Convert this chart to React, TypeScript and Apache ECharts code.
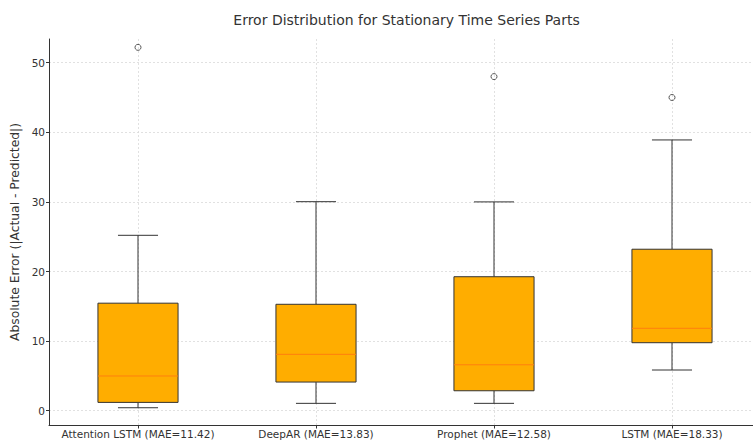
import React, { useEffect, useRef } from "react";
import * as echarts from "echarts";

const categories = [
  "Attention LSTM (MAE=11.42)",
  "DeepAR (MAE=13.83)",
  "Prophet (MAE=12.58)",
  "LSTM (MAE=18.33)",
];
const whiskerLow = [0.43, 1.06, 1.06, 5.85];
const q1 = [1.2, 4.12, 2.87, 9.77];
const median = [4.99, 8.1, 6.6, 11.84];
const q3 = [15.45, 15.29, 19.25, 23.2];
const whiskerHigh = [25.2, 30.03, 30.0, 38.9];
const outlierPos = [1, 3, 4];
const outlierVal = [52.2, 48.0, 45.0];
const yTicks = [0, 10, 20, 30, 40, 50];
const xTicks = [1, 2, 3, 4];

const FONT = "DejaVu Sans";
const TEXT = "#333";
const EDGE = "#333";
const BOX_FILL = "#FFAD00";
const MEDIAN = "#FF7F0E";
const GRID = "#d9d9d9";

export default function App() {
  const ref = useRef<HTMLDivElement>(null);
  useEffect(() => {
    if (!ref.current) return;
    const chart = echarts.init(ref.current, null, { renderer: "svg" });
    const boxData = categories.map((_, i) => [
      i + 1,
      whiskerLow[i],
      q1[i],
      median[i],
      q3[i],
      whiskerHigh[i],
    ]);
    const outData = outlierPos.map((p, i) => [p, outlierVal[i]]);
    const option: any = {
      animation: false,
      backgroundColor: "#fff",
      textStyle: { fontFamily: FONT },
      graphic: [
        {
          type: "text",
          x: 406.5,
          y: 19.5,
          style: {
            text: "Error Distribution for Stationary Time Series Parts",
            fontFamily: FONT,
            fontSize: 14,
            fill: TEXT,
            align: "center",
            verticalAlign: "middle",
          },
        },
      ],
      grid: { left: 49, top: 39, width: 712, height: 386 },
      xAxis: {
        type: "value",
        min: 0.5,
        max: 4.5,
        splitNumber: 4,
        axisLine: { show: true, onZero: false, lineStyle: { color: EDGE, width: 1 } },
        axisTick: { show: true, length: 3.5, customValues: xTicks, lineStyle: { color: EDGE } },
        axisLabel: {
          customValues: xTicks,
          formatter: (v: number) => categories[Math.round(v) - 1] ?? "",
          fontFamily: FONT,
          fontSize: 10.5,
          color: TEXT,
          margin: 3,
        },
        splitLine: {
          show: true,
          lineStyle: { color: GRID, type: [2, 2], width: 0.8 },
        },
      },
      yAxis: {
        type: "value",
        min: -2.05,
        max: 53.4,
        name: "Absolute Error (|Actual - Predicted|)",
        nameLocation: "middle",
        nameGap: 14,
        nameTextStyle: { fontFamily: FONT, fontSize: 12.3, color: TEXT },
        axisLine: { show: true, onZero: false, lineStyle: { color: EDGE, width: 1 } },
        axisTick: { show: true, length: 3, customValues: yTicks, lineStyle: { color: EDGE } },
        axisLabel: {
          customValues: yTicks,
          fontFamily: FONT,
          fontSize: 10.5,
          color: TEXT,
          margin: 4,
        },
        splitLine: {
          show: true,
          lineStyle: { color: GRID, type: [2, 2], width: 0.8 },
        },
      },
      series: [
        {
          type: "custom",
          data: boxData,
          encode: { x: 0, y: [1, 2, 3, 4, 5] },
          renderItem: (params: any, api: any) => {
            const x = api.value(0);
            const pLow = api.coord([x, api.value(1)]);
            const pQ1 = api.coord([x, api.value(2)]);
            const pMed = api.coord([x, api.value(3)]);
            const pQ3 = api.coord([x, api.value(4)]);
            const pHigh = api.coord([x, api.value(5)]);
            const band = api.size([1, 0])[0];
            const bw = band * 0.45;
            const cw = band * 0.225;
            const cx = pMed[0];
            const ls = { stroke: EDGE, lineWidth: 1 };
            return {
              type: "group",
              children: [
                { type: "line", shape: { x1: cx, y1: pQ3[1], x2: cx, y2: pHigh[1] }, style: ls },
                { type: "line", shape: { x1: cx, y1: pQ1[1], x2: cx, y2: pLow[1] }, style: ls },
                { type: "line", shape: { x1: cx - cw / 2, y1: pHigh[1], x2: cx + cw / 2, y2: pHigh[1] }, style: ls },
                { type: "line", shape: { x1: cx - cw / 2, y1: pLow[1], x2: cx + cw / 2, y2: pLow[1] }, style: ls },
                {
                  type: "rect",
                  shape: { x: cx - bw / 2, y: pQ3[1], width: bw, height: pQ1[1] - pQ3[1] },
                  style: { fill: BOX_FILL, stroke: EDGE, lineWidth: 1 },
                },
                {
                  type: "line",
                  shape: { x1: cx - bw / 2, y1: pMed[1], x2: cx + bw / 2, y2: pMed[1] },
                  style: { stroke: MEDIAN, lineWidth: 1 },
                },
              ],
            };
          },
        },
        {
          type: "scatter",
          data: outData,
          symbol: "circle",
          symbolSize: 6,
          itemStyle: { color: "rgba(0,0,0,0)", borderColor: EDGE, borderWidth: 1 },
        },
      ],
    };
    chart.setOption(option);
    return () => chart.dispose();
  }, []);
  return (
    <div
      style={{ position: "fixed", left: 0, top: 0, width: 753, height: 442, overflow: "hidden" }}
    >
      <div ref={ref} style={{ width: 775, height: 442 }} />
    </div>
  );
}
